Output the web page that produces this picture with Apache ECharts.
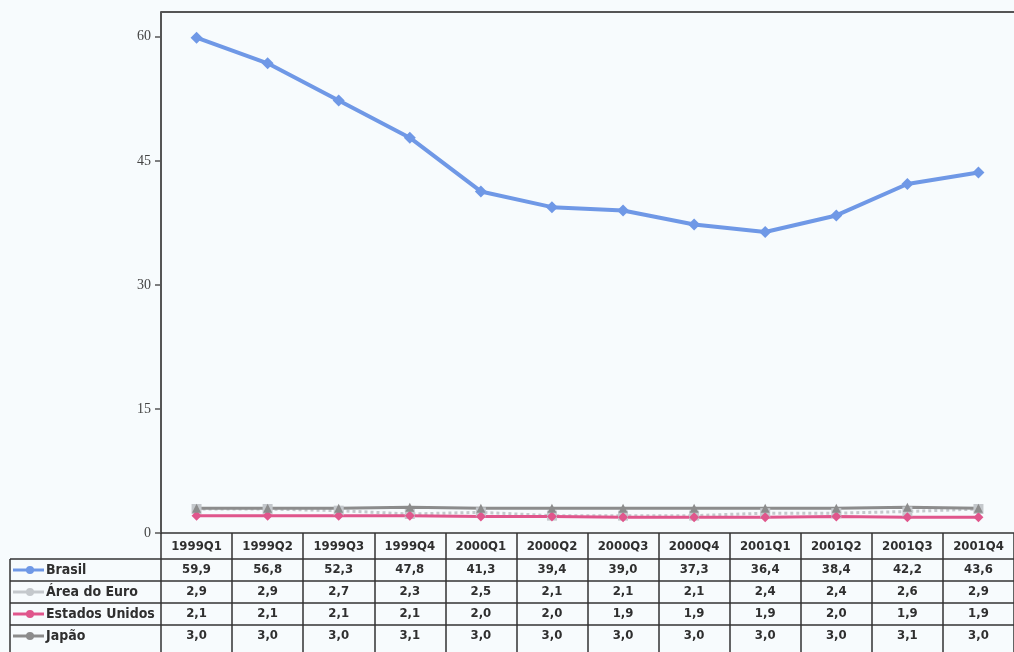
<!DOCTYPE html>
<html>
<head>
<meta charset="utf-8">
<script src="https://cdn.jsdelivr.net/npm/echarts@6/dist/echarts.min.js"></script>
<style>
  html, body { margin: 0; padding: 0; background: #f7fbfd; }
  #chart { width: 1014px; height: 652px; }
</style>
</head>
<body>
<div id="chart"></div>
<script>
const quarters = ['1999Q1', '1999Q2', '1999Q3', '1999Q4', '2000Q1', '2000Q2',
  '2000Q3', '2000Q4', '2001Q1', '2001Q2', '2001Q3', '2001Q4']
const brasil = [59.9, 56.8, 52.3, 47.8, 41.3, 39.4, 39.0, 37.3, 36.4, 38.4, 42.2, 43.6]
const areaEuro = [2.9, 2.9, 2.7, 2.3, 2.5, 2.1, 2.1, 2.1, 2.4, 2.4, 2.6, 2.9]
const estadosUnidos = [2.1, 2.1, 2.1, 2.1, 2.0, 2.0, 1.9, 1.9, 1.9, 2.0, 1.9, 1.9]
const japao = [3.0, 3.0, 3.0, 3.1, 3.0, 3.0, 3.0, 3.0, 3.0, 3.0, 3.1, 3.0]
const yTicks = [0, 15, 30, 45, 60]

const rows = [
  { name: 'Brasil', data: brasil, color: '#6f98e6', symbol: 'diamond', width: 4, type: 'solid' },
  { name: 'Área do Euro', data: areaEuro, color: '#c4c8cc', symbol: 'rect', width: 3, type: 'dotted' },
  { name: 'Estados Unidos', data: estadosUnidos, color: '#e0568c', symbol: 'diamond', width: 3, type: 'solid' },
  { name: 'Japão', data: japao, color: '#8c8c8c', symbol: 'triangle', width: 3, type: 'solid' }
]

const fmt = v => v.toFixed(1).replace('.', ',')
const narrow = '"Liberation Sans Narrow", "DejaVu Sans Condensed", Arial, sans-serif'
const tableFont = 'bold 13px ' + narrow
const textColor = '#2f2f2f'
const lineColor = '#333'

const chart = echarts.init(document.getElementById('chart'))

chart.setOption({
  backgroundColor: '#f7fbfd',
  animation: false,
  grid: { left: 161, right: 0, top: 12, bottom: 119 },
  xAxis: {
    type: 'category',
    data: quarters,
    boundaryGap: true,
    axisLine: { lineStyle: { color: lineColor, width: 1.5 } },
    axisTick: { show: true, length: 120, lineStyle: { color: lineColor, width: 1.5 } },
    axisLabel: {
      margin: 7,
      color: textColor,
      fontFamily: narrow,
      fontWeight: 'bold',
      fontSize: 13
    }
  },
  yAxis: {
    type: 'value',
    min: 0,
    max: 63,
    interval: 15,
    splitLine: { show: false },
    axisLine: { show: true, lineStyle: { color: '#555', width: 2 } },
    axisTick: { show: true, length: 6, customValues: yTicks, lineStyle: { color: '#555', width: 1.5 } },
    axisLabel: {
      customValues: yTicks,
      margin: 10,
      color: '#444',
      fontFamily: '"Liberation Serif", serif',
      fontSize: 14
    }
  },
  series: rows.map(r => ({
    name: r.name,
    type: 'line',
    data: r.data,
    symbol: r.symbol,
    symbolSize: r.symbol === 'triangle' ? 9 : (r.name === 'Brasil' ? 12 : 10),
    itemStyle: { color: r.color },
    lineStyle: { color: r.color, width: r.width, type: r.type },
    z: r.name === 'Brasil' ? 4 : 3
  }))
})

// table built from the axis positions
const px = i => chart.convertToPixel({ xAxisIndex: 0 }, i)
const colW = px(1) - px(0)
const leftX = px(0) - colW / 2
const rightX = px(quarters.length - 1) + colW / 2
const axisY = chart.convertToPixel({ yAxisIndex: 0 }, 0)
const headerH = 26
const rowH = 22
const graphic = []

// top border of plot
graphic.push({
  type: 'line', shape: { x1: leftX, y1: 12, x2: rightX, y2: 12 },
  style: { stroke: '#555', lineWidth: 2 }
})

const tableLeft = 10
rows.forEach((r, k) => {
  const top = axisY + headerH + k * rowH
  graphic.push({
    type: 'line', shape: { x1: tableLeft, y1: top, x2: rightX, y2: top },
    style: { stroke: lineColor, lineWidth: 1.5 }
  })
  const cy = top + rowH / 2
  // legend key
  graphic.push({
    type: 'line', shape: { x1: tableLeft + 3, y1: cy, x2: tableLeft + 34, y2: cy },
    style: { stroke: r.color, lineWidth: 3 }
  })
  graphic.push({
    type: 'circle', shape: { cx: tableLeft + 20, cy: cy, r: 4 },
    style: { fill: r.color }
  })
  graphic.push({
    type: 'text', x: tableLeft + 36, y: cy,
    style: { text: r.name, font: 'bold 14px ' + narrow, fill: textColor, verticalAlign: 'middle' }
  })
  r.data.forEach((v, i) => {
    graphic.push({
      type: 'text', x: px(i), y: cy,
      style: { text: fmt(v), font: tableFont, fill: textColor, align: 'center', verticalAlign: 'middle' }
    })
  })
})
graphic.push({
  type: 'line', shape: { x1: tableLeft, y1: axisY + headerH, x2: tableLeft, y2: 652 },
  style: { stroke: lineColor, lineWidth: 1.5 }
})

chart.setOption({ graphic })
</script>
</body>
</html>
